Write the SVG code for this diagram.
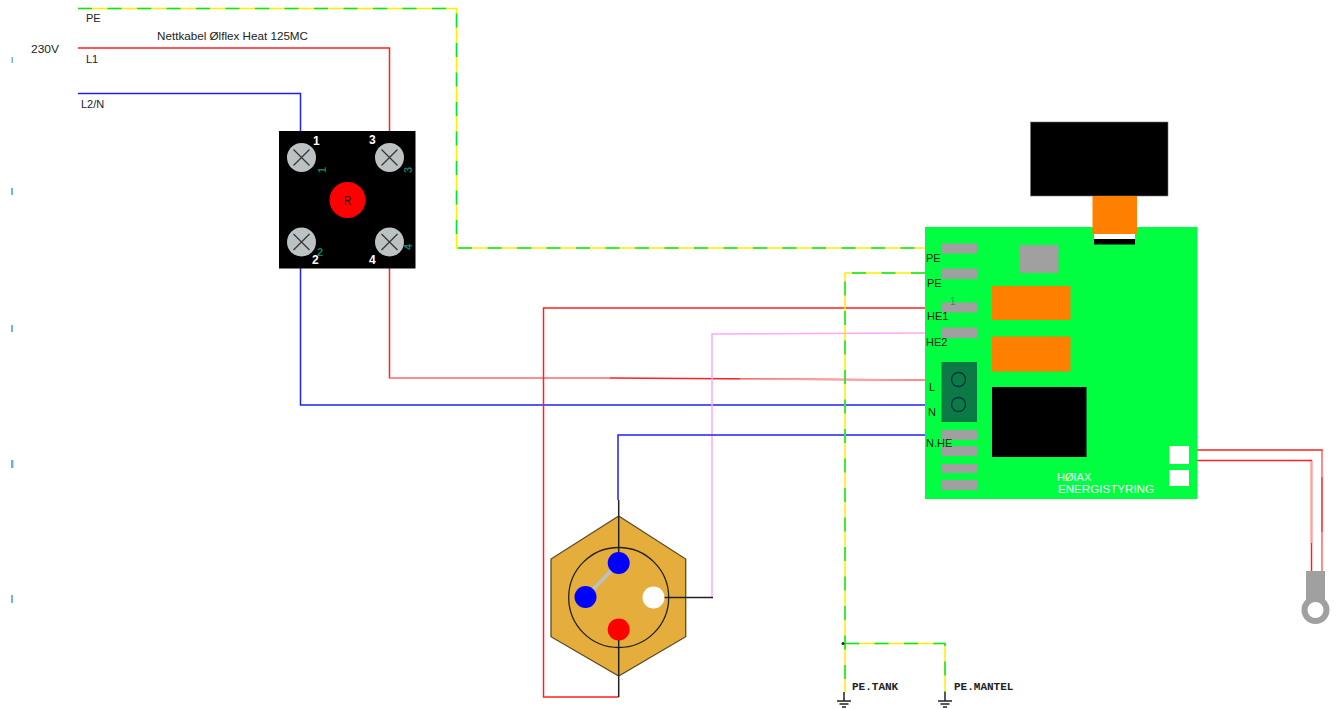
<svg xmlns="http://www.w3.org/2000/svg" width="1338" height="709" viewBox="0 0 1338 709">
<style>
text{font-family:"Liberation Sans",Arial,sans-serif;font-size:11px;fill:#222}
.mono{font-family:"Liberation Mono","DejaVu Sans Mono",monospace;font-size:11px;fill:#222;font-weight:bold}
.w{fill:none;stroke-width:1.5}
.ye{stroke:#ffee00}
.gr{stroke:#00e632;stroke-dasharray:14 15.5}
.re{stroke:#ff2020}
.pk{stroke:#ff9f9f}
.bl{stroke:#2020f0}
.vi{stroke:#ffa8f8}
.bk{fill:none;stroke:#222;stroke-width:1.5}
.pad{fill:#a0a0a0}
.term{fill:#bcc2c4}
.x{stroke:#333;stroke-width:1.2;fill:none}
.n{fill:#fff;font-weight:bold;font-size:12px}
.t{fill:#1c7a68;font-size:11px;font-weight:bold}
.g{stroke:#222;stroke-width:1.5;fill:none}
.speck{fill:#6fb4dc}
</style>
<defs>
<g id="gnd"><path class="g" d="M0 0V9M-7 9H7M-4.500 12H4.500M-2 15H2"/></g>
<g id="tm"><circle class="term" r="14.500"/><path class="x" d="M-8 -8L8 8M8 -8L-8 8"/></g>
</defs>

<g id="margin-marks">
<rect class="speck" x="11.500" y="57" width="1.500" height="6"/>
<rect class="speck" x="11" y="188" width="2" height="7"/>
<rect class="speck" x="11" y="325" width="2" height="7"/>
<rect class="speck" x="11" y="460" width="2.500" height="8"/>
<rect class="speck" x="11" y="595" width="2" height="8"/>
</g>

<g id="connectors">
<path class="w ye" d="M78 8.500H456.500V248H925"/>
<path class="w gr" d="M78 8.500H456.500V248H925"/>
<path class="w re" d="M78 48H389.500V131"/>
<path class="w bl" d="M78 93.500H300.500V131"/>
<path class="w bl" d="M300.500 268V405H925"/>
<path class="w re" d="M389.500 268V378H610L925 380"/>
<path class="w pk" d="M389.500 378H610"/>
<path class="w pk" d="M740 379.200L925 380"/>
<path class="w re" d="M618.700 697H543.500V308H925"/>
<path class="w vi" d="M712 597.500V334L925 333"/>
<path class="w bl" d="M618 500V435H925"/>
<path class="w ye" d="M925 273H845V692M845 643.500H945V692"/>
<path class="w gr" d="M925 273H845V692M845 643.500H945V692"/>
<path class="w re" d="M1197 450H1322V571"/>
<path class="w re" d="M1197 460.500H1311.500V571"/>
<path class="w pk" d="M1322 451V477M1322 532V571M1311.500 461V543"/>
<path class="bk" d="M618.700 500V553M618.700 640V697M664 597.500H713"/>
<circle cx="843" cy="643.500" r="1.500" fill="#222"/>
<use href="#gnd" x="844" y="692"/>
<use href="#gnd" x="945" y="692"/>
</g>

<g id="mains-labels">
<text x="86" y="22">PE</text>
<text x="157" y="40" textLength="151" lengthAdjust="spacingAndGlyphs">Nettkabel Ølflex Heat 125MC</text>
<text x="31" y="53" textLength="28" lengthAdjust="spacingAndGlyphs">230V</text>
<text x="86" y="63">L1</text>
<text x="81" y="108">L2/N</text>
</g>

<g id="switch">
<rect x="279" y="131" width="136.500" height="137.500" fill="#000"/>
<use href="#tm" x="301.500" y="157.500"/>
<use href="#tm" x="389.500" y="157.500"/>
<use href="#tm" x="301.500" y="242"/>
<use href="#tm" x="389.500" y="242"/>
<circle cx="347.500" cy="200" r="18" fill="#ff0000"/>
<text class="mono" x="347.500" y="204.500" text-anchor="middle" style="font-size:13px;font-weight:normal">R</text>
<text class="n" x="313" y="145">1</text>
<text class="n" x="369" y="144">3</text>
<text class="n" x="312" y="264">2</text>
<text class="n" x="369" y="264">4</text>
<text class="t" transform="translate(326,173) rotate(-90)">1</text>
<text class="t" transform="translate(412,173) rotate(-90)">3</text>
<text class="t" x="317" y="256">2</text>
<text class="t" transform="translate(412,250) rotate(-90)">4</text>
</g>

<g id="heater">
<path d="M618.700 516L685.700 559V636.700L618.700 676L551 636.700V559Z" fill="#e5ae3c" stroke="#5a4a28" stroke-width="1.300"/>
<circle cx="618.700" cy="597.500" r="50" fill="none" stroke="#222" stroke-width="1.300"/>
<path d="M618.700 563L585.500 597" stroke="#bcc2c4" stroke-width="3.500" fill="none"/>
<circle cx="618.700" cy="563" r="11" fill="#0000ff"/>
<circle cx="585.500" cy="597" r="11" fill="#0000ff"/>
<circle cx="653.500" cy="597.500" r="11" fill="#fff"/>
<circle cx="618.700" cy="629.500" r="11" fill="#ff0000"/>
<path class="bk" d="M618.700 516V552M618.700 640V676M664.500 597.500H686"/>
</g>

<g id="display">
<rect x="1030.500" y="122" width="137.500" height="74" fill="#000" stroke="#777" stroke-width=".6"/>
</g>

<g id="controller">
<rect x="925" y="227" width="272.500" height="272" fill="#00ff40"/>
<rect x="1092.500" y="196" width="44.500" height="38" fill="#ff8000"/>
<rect x="1094" y="234" width="41" height="5" fill="#fff"/>
<rect x="1094" y="239" width="41" height="5.500" fill="#000"/>
<rect class="pad" x="942" y="243.500" width="35" height="10"/>
<rect class="pad" x="942" y="268.500" width="35" height="10.500"/>
<rect class="pad" x="942" y="302.500" width="35" height="10"/>
<rect class="pad" x="942" y="327.500" width="35" height="10.500"/>
<rect x="941.500" y="362" width="35.500" height="60" fill="#0b7a45"/>
<circle cx="958.500" cy="379.500" r="7" fill="none" stroke="#034" stroke-width="1.300"/>
<circle cx="958.500" cy="404.500" r="7" fill="none" stroke="#034" stroke-width="1.300"/>
<rect class="pad" x="942" y="430" width="35" height="10"/>
<rect class="pad" x="942" y="446" width="35" height="10"/>
<rect class="pad" x="942" y="464" width="35" height="9"/>
<rect class="pad" x="942" y="480" width="35" height="10"/>
<rect class="pad" x="1020" y="245" width="38.500" height="28"/>
<rect x="992" y="286" width="78.500" height="34" fill="#ff8000"/>
<rect x="992" y="336.500" width="78.500" height="35" fill="#ff8000"/>
<rect x="992" y="387" width="94.500" height="70" fill="#000"/>
<rect x="1169.500" y="446" width="19.500" height="18" fill="#fff"/>
<rect x="1169.500" y="470" width="19.500" height="16" fill="#fff"/>
<text x="926" y="262">PE</text>
<text x="927" y="287">PE</text>
<text x="950" y="305" style="font-size:10px;fill:#3a8a60">1</text>
<text x="927" y="320">HE1</text>
<text x="926" y="346">HE2</text>
<text x="929" y="391">L</text>
<text x="928" y="416">N</text>
<text x="926" y="447">N.HE</text>
<text x="1057" y="481" style="fill:#fff">HØIAX</text>
<text x="1058" y="493" textLength="96" lengthAdjust="spacingAndGlyphs" style="fill:#fff">ENERGISTYRING</text>
</g>

<g id="sensor">
<rect x="1306" y="571" width="19" height="30" fill="#a0a0a0"/>
<circle cx="1315.500" cy="610" r="11" fill="#fff" stroke="#a0a0a0" stroke-width="6"/>
</g>

<g id="earth-labels">
<text class="mono" x="852" y="690">PE.TANK</text>
<text class="mono" x="954" y="690">PE.MANTEL</text>
</g>
</svg>
